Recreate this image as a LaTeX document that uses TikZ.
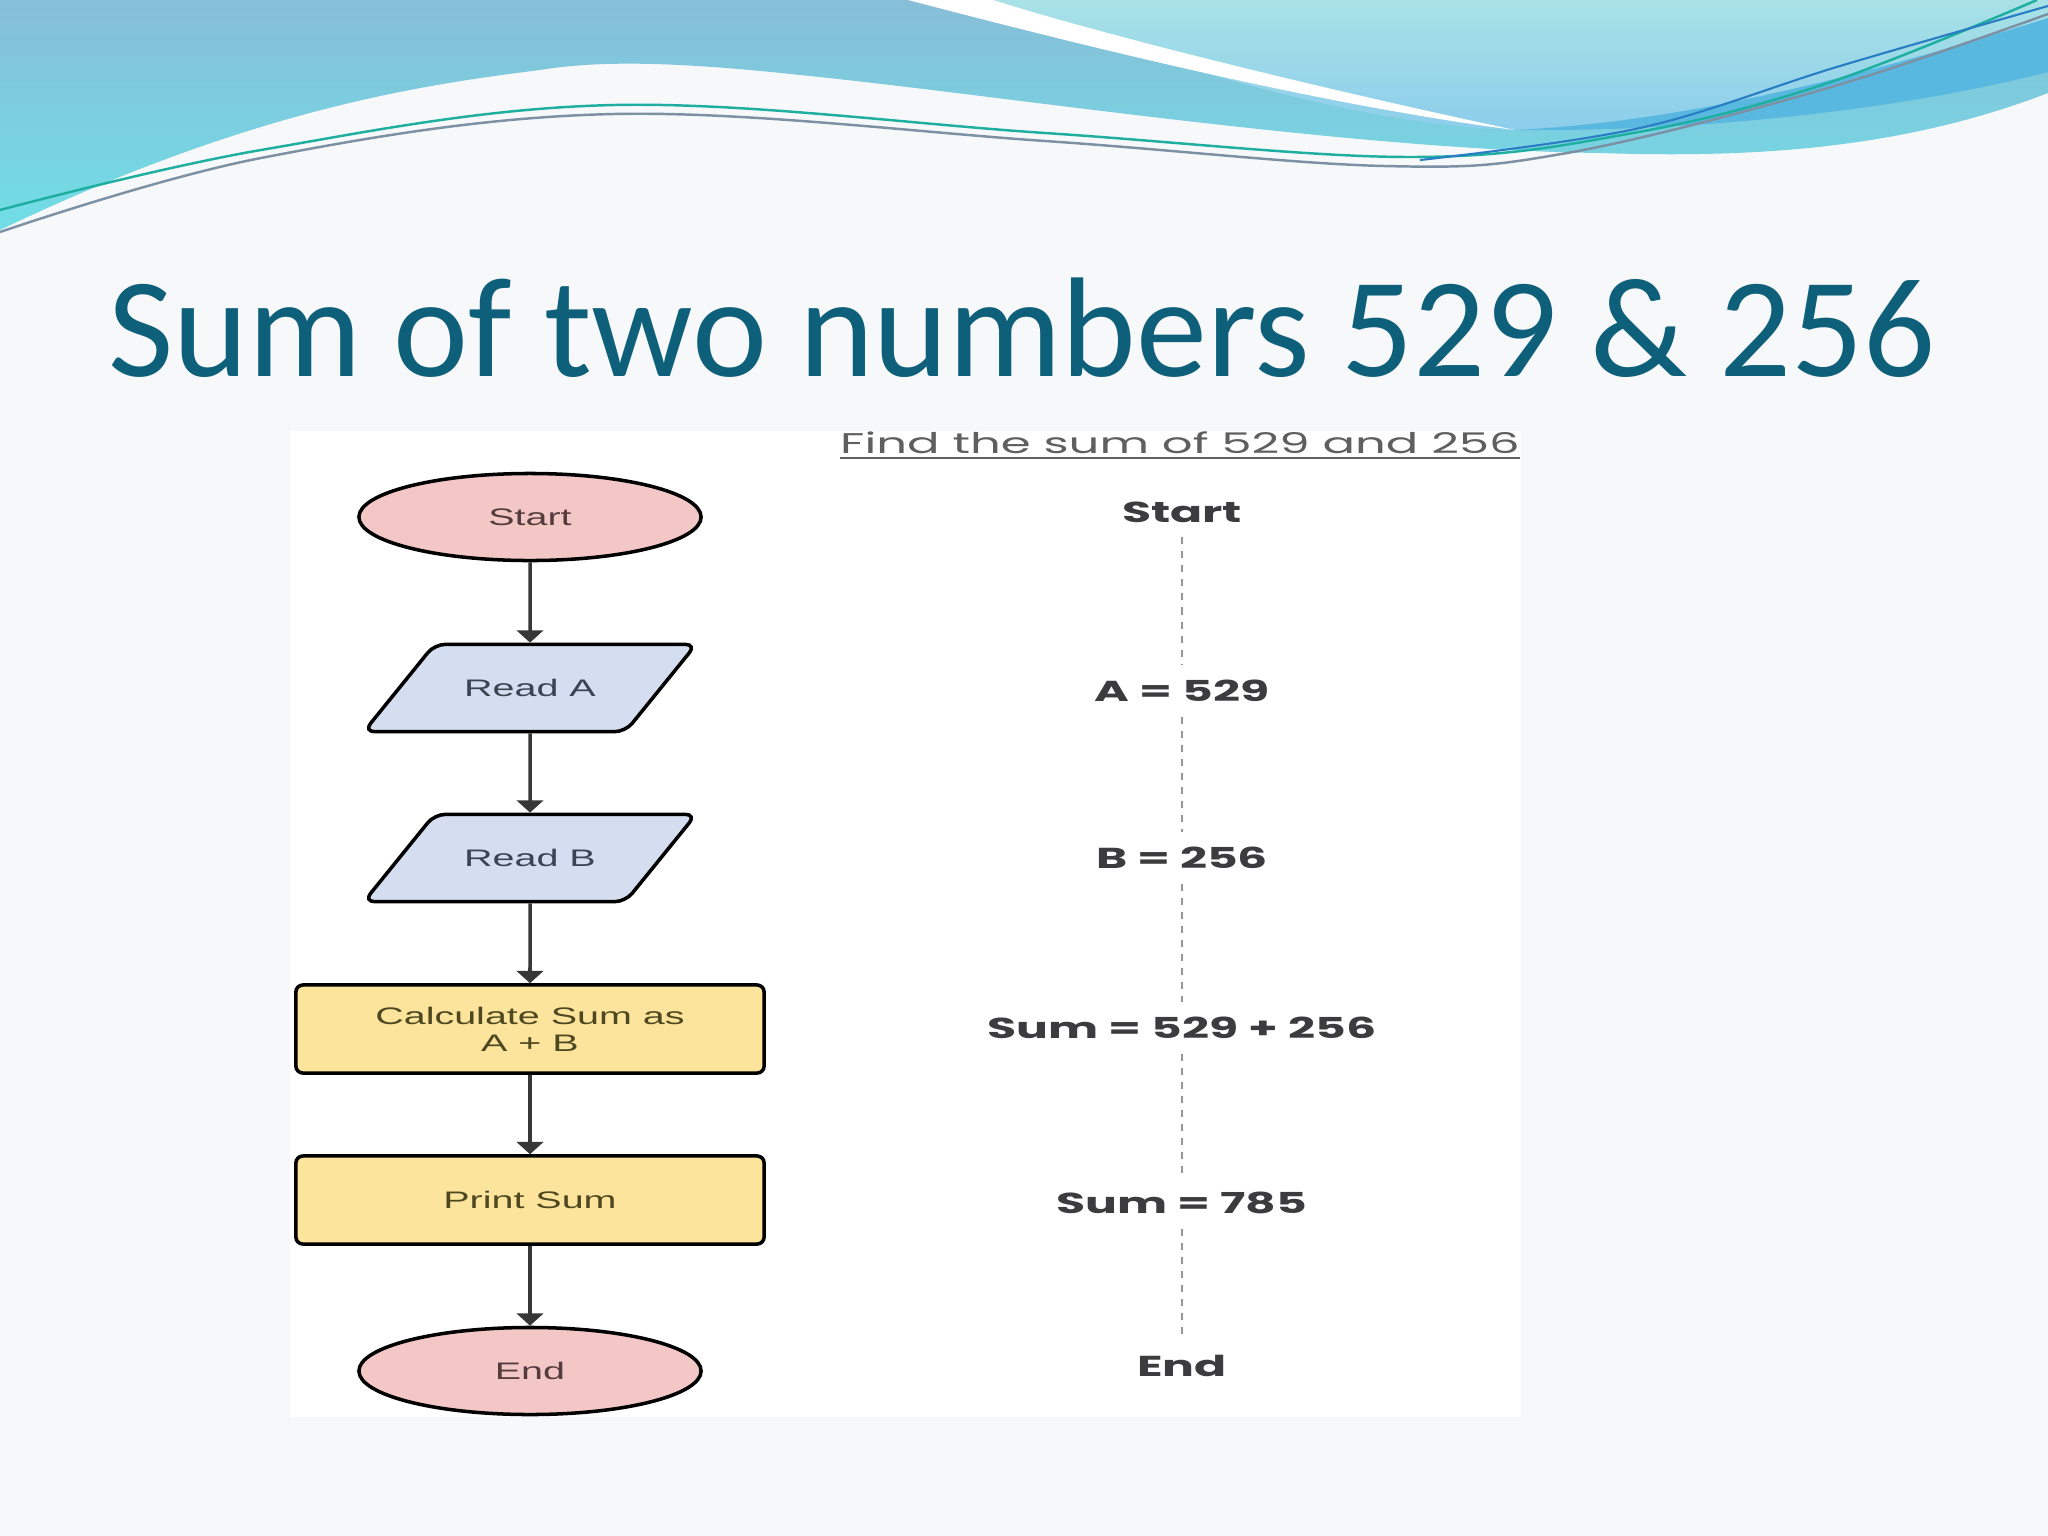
\documentclass[tikz,border=0pt]{standalone}
\usepackage{fontspec}
\usepackage{graphicx}
\setmainfont{Liberation Sans}
\newfontfamily\titlefont{Carlito}
\newfontfamily\gothic{Poppins}
\usetikzlibrary{shapes.geometric,arrows.meta,positioning}

\definecolor{slidebg}{RGB}{247,248,250}
\definecolor{titleblue}{RGB}{14,96,122}
\definecolor{bandtop}{RGB}{135,190,216}
\definecolor{bandbot}{RGB}{112,222,230}
\definecolor{captop}{RGB}{168,226,230}
\definecolor{capbot}{RGB}{140,205,235}
\definecolor{capband}{RGB}{88,184,224}
\definecolor{wavegreen}{RGB}{30,175,160}
\definecolor{wavegray}{RGB}{125,145,165}
\definecolor{waveblue}{RGB}{40,125,195}
\definecolor{termfill}{RGB}{244,199,199}
\definecolor{termtext}{RGB}{85,60,60}
\definecolor{iofill}{RGB}{212,222,240}
\definecolor{iotext}{RGB}{58,68,82}
\definecolor{procfill}{RGB}{252,228,156}
\definecolor{proctext}{RGB}{78,72,32}
\definecolor{arrowink}{RGB}{55,55,55}
\definecolor{traceink}{RGB}{60,60,62}
\definecolor{taskink}{RGB}{95,95,95}
\definecolor{dashink}{RGB}{150,150,150}

% wide letters of the pasted pictures
\newcommand{\fctext}[1]{\scalebox{1.65}[1]{#1}}
\newcommand{\trtext}[1]{\scalebox{1.64}[1]{#1}}

\begin{document}
\begin{tikzpicture}[x=0.01cm,y=-0.01cm,
  flow/.style={draw=black,line width=1pt,font=\fontsize{6.8}{7.6}\selectfont,align=center,inner sep=0pt},
  term/.style={flow,ellipse,fill=termfill,text=termtext,minimum width=3.42cm,minimum height=0.87cm},
  io/.style={flow,trapezium,trapezium left angle=51,trapezium right angle=129,trapezium stretches body,
    text height=5pt,text depth=0pt,inner ysep=9.9pt,
    rounded corners=3pt,fill=iofill,text=iotext,minimum width=3.32cm},
  proc/.style={flow,rectangle,rounded corners=2pt,fill=procfill,text=proctext,minimum width=4.68cm,minimum height=0.88cm},
  flowline/.style={draw=arrowink,line width=1pt,-{Triangle[width=7.5pt,length=3.5pt]}},
  tracestep/.style={font=\gothic\bfseries\fontsize{8.2}{9}\selectfont,text=traceink,inner sep=4pt},
  traceline/.style={draw=dashink,line width=0.6pt,dash pattern=on 2pt off 2pt}]

 % slide
 \fill[slidebg] (0,0) rectangle (2048,1536);
 \useasboundingbox (0,0) rectangle (2048,1536);

 % waves on top
 \shade[top color=bandtop,bottom color=bandbot] (0,0) -- (2048,0) -- (2048,93)
   .. controls (1900,150) and (1750,158) .. (1600,153)
   .. controls (1350,150) and (1000,95) .. (800,75)
   .. controls (680,62) and (600,60) .. (540,70)
   .. controls (420,85) and (250,110) .. (0,230) -- cycle;
 \shade[top color=captop,bottom color=capbot] (993,0)
   .. controls (1150,60) and (1350,125) .. (1515,130)
   .. controls (1700,132) and (1900,110) .. (2048,70) -- (2048,0) -- cycle;
 \fill[capband] (1515,130) .. controls (1700,132) and (1900,110) .. (2048,72)
   -- (2048,18) .. controls (1850,80) and (1680,122) .. (1515,130) -- cycle;
 \fill[white] (908,0) .. controls (1080,45) and (1320,105) .. (1515,130)
   .. controls (1350,95) and (1120,40) .. (993,0) -- cycle;
 \draw[line width=0.7pt,wavegreen] plot[smooth,tension=0.6] coordinates
   {(0,210) (261,150) (614,105) (1045,133) (1410,157) (1633,133) (1828,83) (2037,0)};
 \draw[line width=0.7pt,wavegray] plot[smooth,tension=0.6] coordinates
   {(0,232) (261,158) (614,114) (1045,141) (1384,166) (1567,153) (1828,88) (2048,14)};
 \draw[line width=0.6pt,waveblue] plot[smooth,tension=0.6] coordinates
   {(1420,160) (1640,128) (1840,66) (2048,6)};

 % title
 \node[anchor=base,text=titleblue,font=\titlefont\fontsize{40.4}{48}\selectfont,inner sep=0pt] (title) at (1022,376)
   {Sum of two numbers 529 \& 256};

 % pasted picture
 \fill[white] (290,431) rectangle (1521,1417);

 % flowchart
 \node[term] (start) at (530,517) {\fctext{Start}};
 \node[io]   (reada) at (530,688) {\fctext{Read A}};
 \node[io]   (readb) at (530,858) {\fctext{Read B}};
 \node[proc] (calc)  at (530,1029) {\fctext{Calculate Sum as}\\\fctext{A + B}};
 \node[proc] (print) at (530,1200) {\fctext{Print Sum}};
 \node[term] (stop)  at (530,1371) {\fctext{End}};

 \draw[flowline] (start) -- (reada);
 \draw[flowline] (reada) -- (readb);
 \draw[flowline] (readb) -- (calc);
 \draw[flowline] (calc) -- (print);
 \draw[flowline] (print) -- (stop);

 % worked values
 \node[anchor=base,font=\gothic\fontsize{8.1}{10}\selectfont,text=taskink,inner sep=0pt] (task) at (1180,453)
   {\scalebox{1.69}[1]{\underline{Find the sum of 529 and 256}}};
 \node[tracestep] (tstart) at (1182,512) {\trtext{Start}};
 \node[tracestep] (ta)     at (1182,691) {\trtext{A = 529}};
 \node[tracestep] (tb)     at (1182,858) {\trtext{B = 256}};
 \node[tracestep] (tsum)   at (1182,1028) {\trtext{Sum = 529 + 256}};
 \node[tracestep] (tres)   at (1182,1203) {\trtext{Sum = 785}};
 \node[tracestep] (tend)   at (1182,1366) {\trtext{End}};

 \draw[traceline] (tstart) -- (ta);
 \draw[traceline] (ta) -- (tb);
 \draw[traceline] (tb) -- (tsum);
 \draw[traceline] (tsum) -- (tres);
 \draw[traceline] (tres) -- (tend);

\end{tikzpicture}
\end{document}
